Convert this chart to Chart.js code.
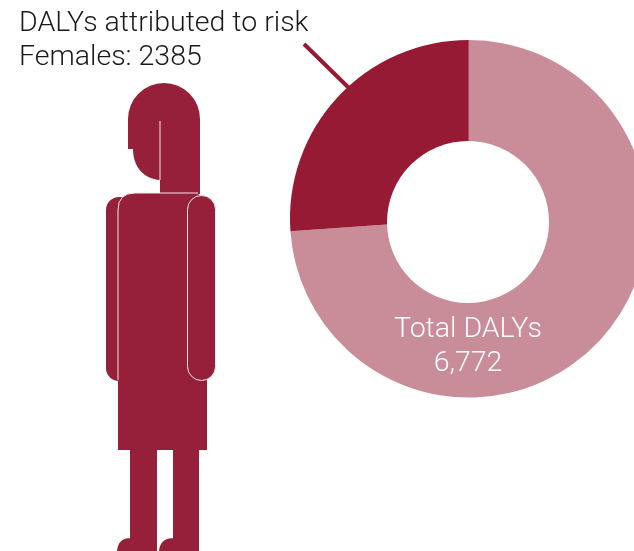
<!DOCTYPE html>
<html lang="en">

<head>
    <meta charset="UTF-8">
    <title>DALYs attributed to risk</title>
    <script src="https://cdn.jsdelivr.net/npm/chart.js"></script>

    <style>
        html, body {
            margin: 0;
            width: 634px;
            height: 551px;
            overflow: hidden;
            background: #fff;
        }

        .container {
            width: 936px;
            height: 551px;
        }
    </style>
</head>

<body>
    <div class="container">
        <canvas id="myChart" width="936" height="551"></canvas>
    </div>
    <script>
        // slice sizes (the dark slice spans about 94 degrees)
        const categories = ['Other DALYs', 'DALYs attributed to risk'];
        const sliceValues = [5004, 1768];
        const sliceColors = ['#c98c99', '#961a33'];

        const titleLines = ['DALYs attributed to risk', 'Females: 2385'];
        const totalLines = ['Total DALYs', '6,772'];

        const figureColor = '#96203a';
        const textFont = '300 28.5px "Roboto", "Liberation Sans", sans-serif';

        const drawFigure = (c) => {
            c.save();
            c.fillStyle = figureColor;
            c.strokeStyle = '#f4e4e7';
            c.lineWidth = 1;

            // back arm
            c.beginPath();
            c.roundRect(106, 197, 40, 184, 13);
            c.fill();

            // legs and feet
            c.beginPath();
            c.rect(130, 440, 27, 111);
            c.rect(173, 440, 26, 111);
            c.moveTo(117, 551);
            c.quadraticCurveTo(118, 538, 131, 538);
            c.lineTo(131, 551);
            c.closePath();
            c.moveTo(159, 551);
            c.quadraticCurveTo(160, 538, 174, 538);
            c.lineTo(174, 551);
            c.closePath();
            c.fill();

            // hair, neck and face
            c.beginPath();
            c.moveTo(128, 149);
            c.lineTo(128, 119);
            c.arc(164, 119, 36, Math.PI, 0);
            c.lineTo(200, 194);
            c.lineTo(160, 194);
            c.lineTo(160, 180);
            c.bezierCurveTo(144, 179, 133, 167, 133, 149);
            c.closePath();
            c.fill();

            c.beginPath();
            c.moveTo(160, 121);
            c.lineTo(160, 180);
            c.stroke();

            // dress
            c.beginPath();
            c.moveTo(118, 450);
            c.lineTo(118, 210);
            c.quadraticCurveTo(118, 193, 135, 193);
            c.lineTo(190, 193);
            c.quadraticCurveTo(207, 193, 207, 210);
            c.lineTo(207, 450);
            c.closePath();
            c.fill();

            c.beginPath();
            c.moveTo(118, 380);
            c.lineTo(118, 210);
            c.quadraticCurveTo(118, 193, 135, 193);
            c.lineTo(198, 193);
            c.stroke();

            // front arm
            c.beginPath();
            c.roundRect(187.5, 195.5, 28, 185, 14);
            c.fill();
            c.stroke();
            c.restore();
        };

        const decorations = {
            id: 'decorations',
            afterDraw(chart) {
                const c = chart.ctx;

                // the hole sits about 3px below the ring's centre in the reference
                c.save();
                c.fillStyle = '#ffffff';
                c.beginPath();
                c.arc(468, 222, 81, 0, Math.PI * 2);
                c.fill();
                c.restore();

                drawFigure(c);

                // leader line
                c.save();
                c.strokeStyle = sliceColors[1];
                c.lineWidth = 4;
                c.beginPath();
                c.moveTo(304, 44);
                c.lineTo(350, 89);
                c.stroke();

                c.font = textFont;
                c.textBaseline = 'alphabetic';
                c.fillStyle = '#1a1a1a';
                c.textAlign = 'left';
                titleLines.forEach((t, i) => c.fillText(t, 19, 31 + i * 34));

                c.fillStyle = '#ffffff';
                c.textAlign = 'center';
                totalLines.forEach((t, i) => c.fillText(t, 468, 337 + i * 34));
                c.restore();
            }
        };

        const myChart = new Chart(document.getElementById('myChart').getContext('2d'), {
            type: 'doughnut',
            data: {
                labels: categories,
                datasets: [{
                    data: sliceValues,
                    backgroundColor: sliceColors,
                    borderWidth: 0
                }]
            },
            options: {
                responsive: false,
                animation: false,
                cutout: '40%',
                layout: {
                    padding: { left: 290, right: 288.5, top: 40, bottom: 153.5 }
                },
                plugins: {
                    legend: { display: false },
                    tooltip: { enabled: false }
                }
            },
            plugins: [decorations]
        });
    </script>
</body>

</html>
